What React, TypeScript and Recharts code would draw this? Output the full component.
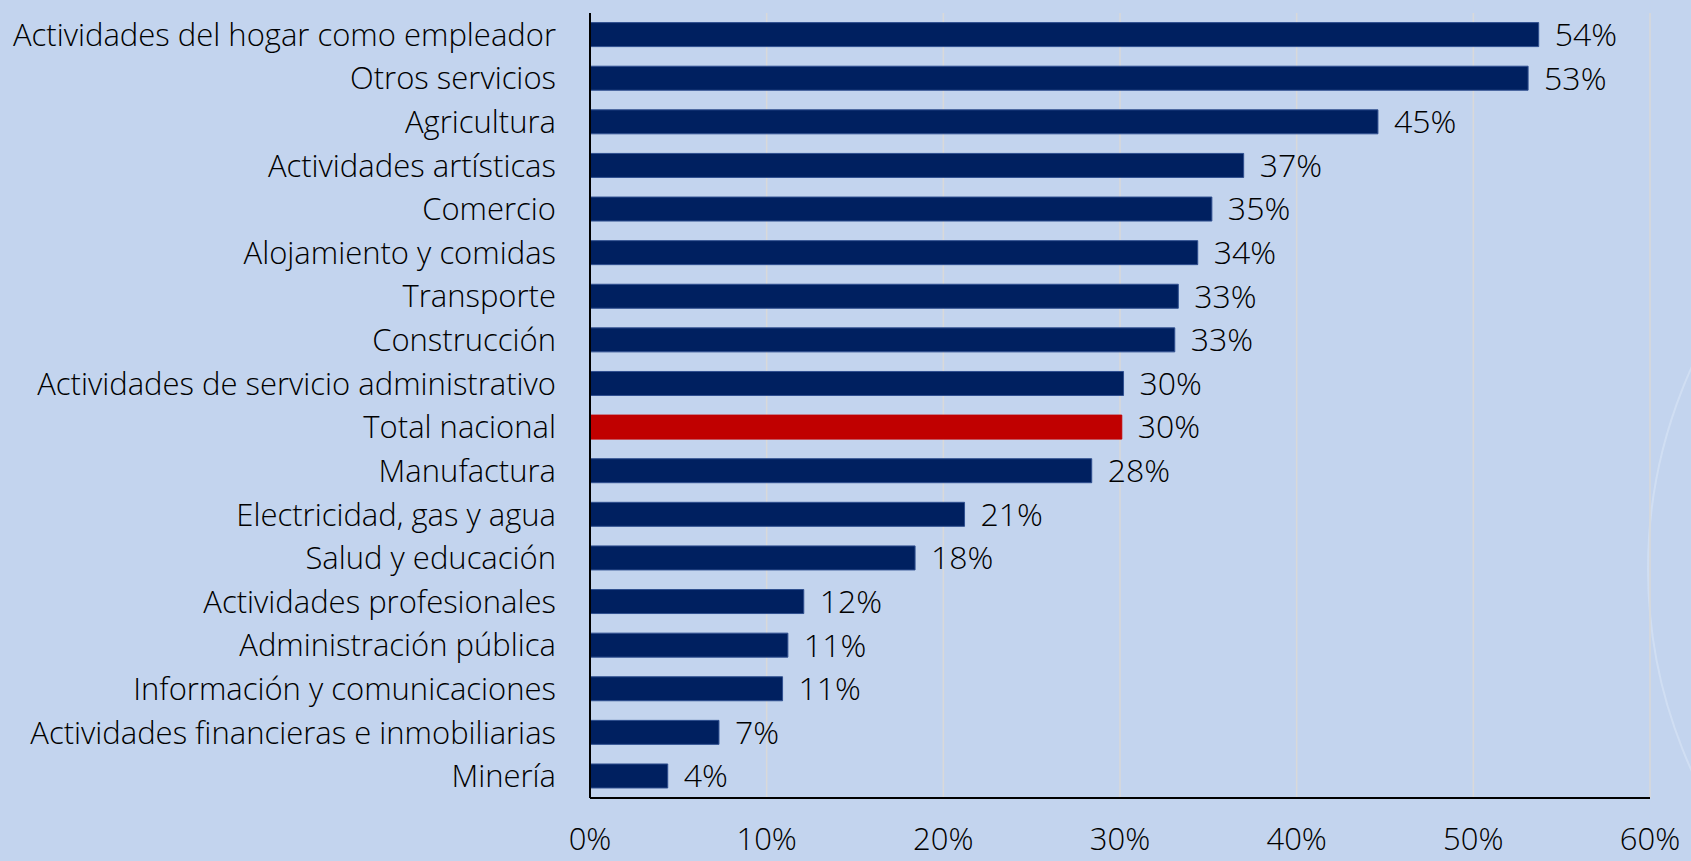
import React from 'react';
import { BarChart, Bar, XAxis, YAxis, CartesianGrid, Cell, LabelList } from 'recharts';

const sectors = [
  'Actividades del hogar como empleador',
  'Otros servicios',
  'Agricultura',
  'Actividades artísticas',
  'Comercio',
  'Alojamiento y comidas',
  'Transporte',
  'Construcción',
  'Actividades de servicio administrativo',
  'Total nacional',
  'Manufactura',
  'Electricidad, gas y agua',
  'Salud y educación',
  'Actividades profesionales',
  'Administración pública',
  'Información y comunicaciones',
  'Actividades financieras e inmobiliarias',
  'Minería',
];

const shares = [
  0.537, 0.531, 0.446, 0.37, 0.352, 0.344, 0.333, 0.331, 0.302, 0.301, 0.284, 0.212, 0.184, 0.121,
  0.112, 0.109, 0.073, 0.044,
];

const xTicks = [0, 0.1, 0.2, 0.3, 0.4, 0.5, 0.6];

const highlight = 'Total nacional';

const data = sectors.map((name, i) => ({ name, value: shares[i] }));

const FONT = '"Open Sans", sans-serif';
const pct = (v: number) => `${Math.round(v * 100)}%`;

const App: React.FC = () => {
  return (
    <div
      style={{
        position: 'absolute',
        top: 0,
        left: 0,
        width: 1691,
        height: 861,
        background: '#C3D4EE',
        overflow: 'hidden',
        fontFamily: FONT,
      }}
    >
      {/* faint decorative arc on the right edge */}
      <div
        style={{
          position: 'absolute',
          left: 1647,
          top: 80,
          width: 974,
          height: 974,
          borderRadius: '50%',
          border: '2px solid rgba(225,234,248,0.45)',
        }}
      />
      <BarChart
        width={1691}
        height={861}
        data={data}
        layout="vertical"
        margin={{ top: 13, right: 41, left: 0, bottom: 0 }}
        barCategoryGap="22%"
        style={{ position: 'absolute', top: 0, left: 0 }}
      >
        <CartesianGrid horizontal={false} stroke="#D9D9D9" strokeWidth={1.5} />
        <XAxis
          type="number"
          domain={[0, 0.6]}
          ticks={xTicks}
          tickFormatter={pct}
          height={63}
          tickSize={0}
          tickMargin={30}
          axisLine={{ stroke: '#000000', strokeWidth: 2 }}
          tick={{ fill: '#000000', fontSize: 31, fontWeight: 300, fontFamily: FONT }}
          interval={0}
        />
        <YAxis
          type="category"
          dataKey="name"
          width={590}
          tickSize={0}
          tickMargin={34}
          axisLine={{ stroke: '#000000', strokeWidth: 2 }}
          tick={{ fill: '#000000', fontSize: 31, fontWeight: 300, fontFamily: FONT }}
          interval={0}
        />
        <Bar dataKey="value" isAnimationActive={false} stroke="#2F4F8F" strokeWidth={1}>
          {data.map((d) => (
            <Cell key={d.name} fill={d.name === highlight ? '#C00000' : '#002060'} stroke={d.name === highlight ? '#C00000' : '#2F4F8F'} />
          ))}
          <LabelList
            dataKey="value"
            position="right"
            offset={16}
            formatter={(v: any) => pct(Number(v))}
            fill="#000000"
            fontSize={32}
            fontWeight={300}
            fontFamily={FONT}
          />
        </Bar>
      </BarChart>
    </div>
  );
};

export default App;
